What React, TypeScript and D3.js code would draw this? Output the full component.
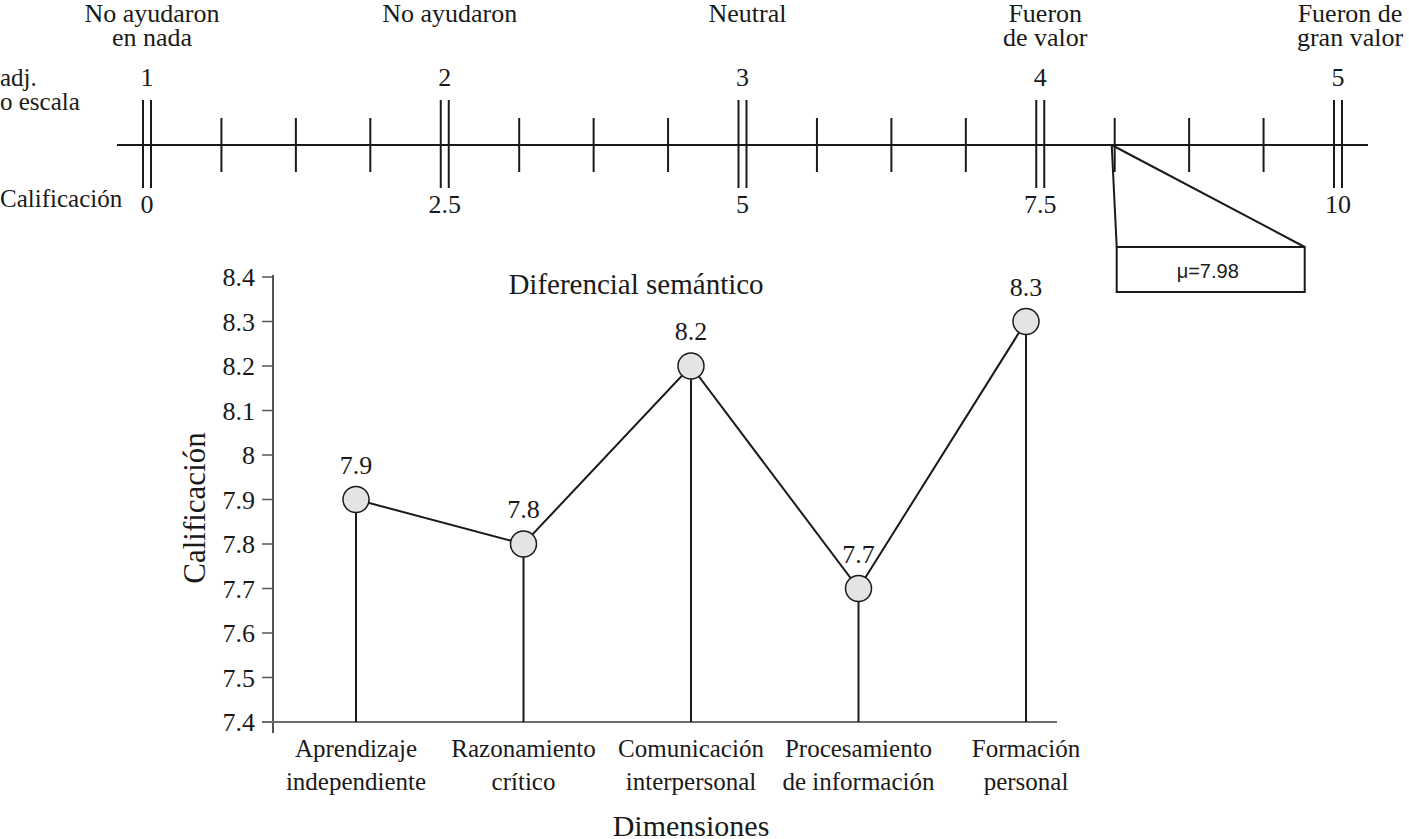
import React from "react";
import * as d3 from "d3";

// ---- Data ----
const ADJECTIVES: string[][] = [
  ["No ayudaron", "en nada"],
  ["No ayudaron"],
  ["Neutral"],
  ["Fueron", "de valor"],
  ["Fueron de", "gran valor"],
];
const SCALE_POINTS = ["1", "2", "3", "4", "5"];
const SCALE_GRADES = [0, 2.5, 5, 7.5, 10];
const MU = 7.98;
const POINTER_AT = 8.1; // where the pointer meets the scale in the picture

const DIMENSIONS: string[][] = [
  ["Aprendizaje", "independiente"],
  ["Razonamiento", "crítico"],
  ["Comunicación", "interpersonal"],
  ["Procesamiento", "de información"],
  ["Formación", "personal"],
];
const SCORES = [7.9, 7.8, 8.2, 7.7, 8.3];
const Y_TICKS = [7.4, 7.5, 7.6, 7.7, 7.8, 7.9, 8, 8.1, 8.2, 8.3, 8.4];

const W = 1409;
const H = 839;
const FONT = "'Liberation Serif', 'Times New Roman', serif";
const INK = "#1a1a1a";

export default function App() {
  // top scale
  const xTop = d3.scaleLinear().domain([0, 10]).range([147, 1338]);
  const lineY = 145;
  const minorTicks = d3.range(0, 10.0001, 0.625).filter((v) => Math.abs(v / 2.5 - Math.round(v / 2.5)) > 1e-6);
  const apexX = xTop(POINTER_AT);

  // main chart
  const names = DIMENSIONS.map((d) => d.join(" "));
  const x = d3.scalePoint<string>().domain(names).range([356, 1026]);
  const y = d3.scaleLinear().domain([7.4, 8.4]).range([722, 277]);
  const axisX = 273;
  const line = d3
    .line<number>()
    .x((_, i) => x(names[i]) as number)
    .y((d) => y(d));
  const fmt = (d: number) => (Number.isInteger(d) ? String(d) : d.toFixed(1));

  return (
    <svg
      width={W}
      height={H}
      style={{ position: "absolute", left: 0, top: 0, background: "#fff" }}
      fontFamily={FONT}
      fill={INK}
    >
      <rect width={W} height={H} fill="#fff" />
      {/* ---------- Top semantic scale ---------- */}
      {ADJECTIVES.map((lines, i) => {
        const cx = xTop(SCALE_GRADES[i]) + (i === ADJECTIVES.length - 1 ? 12 : 5);
        return (
          <text key={"adj" + i} textAnchor="middle" fontSize={26}>
            {lines.map((l, j) => (
              <tspan key={j} x={cx} y={22 + j * 24}>
                {l}
              </tspan>
            ))}
          </text>
        );
      })}
      <text x={0} y={86} fontSize={25}>adj.</text>
      <text x={0} y={110} fontSize={25}>o escala</text>
      <text x={0} y={207} fontSize={25}>Calificación</text>

      <line x1={117} x2={1368} y1={lineY} y2={lineY} stroke={INK} strokeWidth={2} />
      {SCALE_GRADES.map((g, i) => (
        <g key={"maj" + i}>
          <line x1={xTop(g) - 4} x2={xTop(g) - 4} y1={100} y2={188} stroke={INK} strokeWidth={2} />
          <line x1={xTop(g) + 4} x2={xTop(g) + 4} y1={100} y2={188} stroke={INK} strokeWidth={2} />
          <text x={xTop(g)} y={86} textAnchor="middle" fontSize={26}>
            {SCALE_POINTS[i]}
          </text>
          <text x={xTop(g)} y={213} textAnchor="middle" fontSize={26}>
            {String(g)}
          </text>
        </g>
      ))}
      {minorTicks.map((v, i) => (
        <line key={"min" + i} x1={xTop(v)} x2={xTop(v)} y1={118} y2={172} stroke={INK} strokeWidth={2} />
      ))}

      {/* pointer + mean box */}
      <path
        d={`M${apexX},${lineY} L${apexX + 5},247 M${apexX},${lineY} L${apexX + 193},247`}
        stroke={INK}
        strokeWidth={2}
        fill="none"
      />
      <rect x={apexX + 5} y={247} width={188} height={45} fill="#fff" stroke={INK} strokeWidth={2} />
      <text
        x={apexX + 96}
        y={278}
        textAnchor="middle"
        fontSize={20}
        fontFamily="'Liberation Sans', Arial, sans-serif"
      >
        {`μ=${MU}`}
      </text>

      {/* ---------- Main chart ---------- */}
      <text x={636} y={294} textAnchor="middle" fontSize={29}>
        Diferencial semántico
      </text>

      {/* y axis */}
      <line x1={axisX} x2={axisX} y1={y(8.4) - 2} y2={733} stroke={INK} strokeWidth={1.5} />
      {Y_TICKS.map((t) => (
        <g key={"yt" + t}>
          <line x1={262} x2={axisX} y1={y(t)} y2={y(t)} stroke="#555" strokeWidth={1.5} />
          <text x={255} y={y(t)} dy="0.35em" textAnchor="end" fontSize={26}>
            {fmt(t)}
          </text>
        </g>
      ))}
      {/* x axis */}
      <line x1={262} x2={1057} y1={y(7.4)} y2={y(7.4)} stroke="#6e6e6e" strokeWidth={2} />

      <text transform={`translate(205,508) rotate(-90)`} textAnchor="middle" fontSize={31}>
        Calificación
      </text>

      {/* stems */}
      {SCORES.map((v, i) => (
        <line
          key={"stem" + i}
          x1={x(names[i]) as number}
          x2={x(names[i]) as number}
          y1={y(v)}
          y2={y(7.4)}
          stroke={INK}
          strokeWidth={2}
        />
      ))}
      <path d={line(SCORES) || ""} fill="none" stroke={INK} strokeWidth={2} />
      {SCORES.map((v, i) => (
        <g key={"pt" + i}>
          <circle cx={x(names[i]) as number} cy={y(v)} r={13} fill="#e4e4e4" stroke={INK} strokeWidth={1.5} />
          <text x={x(names[i]) as number} y={y(v) - 26} textAnchor="middle" fontSize={26}>
            {fmt(v)}
          </text>
        </g>
      ))}

      {/* category labels */}
      {DIMENSIONS.map((lines, i) => (
        <text key={"cat" + i} textAnchor="middle" fontSize={25}>
          {lines.map((l, j) => (
            <tspan key={j} x={x(names[i]) as number} y={757 + j * 33}>
              {l}
            </tspan>
          ))}
        </text>
      ))}
      <text x={x(names[2]) as number} y={836} textAnchor="middle" fontSize={30}>
        Dimensiones
      </text>
    </svg>
  );
}
